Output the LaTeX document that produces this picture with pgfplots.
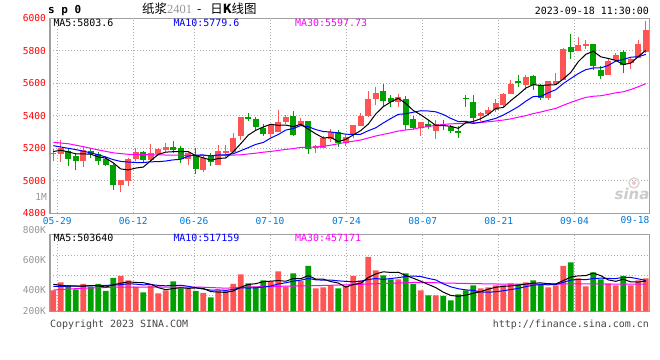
\documentclass[border=0pt]{standalone}
\usepackage{fontspec}
\usepackage{pgfplots}
\usepackage{pgfplotstable}
\pgfplotsset{compat=1.18}
\setmainfont{DejaVu Sans}
\newfontfamily\mono{DejaVu Sans Mono}
\newfontfamily\cjk{Noto Sans CJK SC}
\newfontfamily\serifd{Liberation Serif}

\definecolor{kred}{RGB}{255,84,84}
\definecolor{kgreen}{RGB}{0,160,0}
\definecolor{gridc}{RGB}{175,175,175}
\definecolor{framec}{RGB}{160,160,160}
\definecolor{datec}{RGB}{0,120,215}
\definecolor{greyt}{RGB}{150,150,150}
\definecolor{darkt}{RGB}{70,70,70}
\definecolor{ma10c}{RGB}{0,0,255}
\definecolor{ma30c}{RGB}{255,0,255}

\newcommand{\mf}{\mono\fontsize{10}{11}\selectfont}
\newcommand{\mfs}{\mono\fontsize{9.6}{10}\selectfont}

% candles: index open high low close
\pgfplotstableread{
i o h l c
0 5162 5194 5120 5174
1 5162 5250 5114 5204
4 5120 5215 5085 5190
9 4976 5004 4930 5004
10 5000 5140 4970 5136
11 5136 5200 5120 5176
13 5130 5226 5114 5174
14 5164 5200 5160 5196
15 5190 5234 5180 5206
18 5136 5176 5096 5170
20 5066 5150 5053 5142
22 5097 5220 5097 5186
23 5173 5220 5138 5186
24 5180 5293 5170 5262
25 5276 5392 5250 5392
29 5289 5350 5272 5344
30 5303 5437 5303 5359
31 5359 5406 5348 5390
33 5344 5385 5340 5365
35 5200 5220 5173 5214
36 5200 5276 5200 5262
37 5256 5317 5241 5303
39 5231 5289 5214 5268
40 5285 5345 5265 5345
41 5339 5416 5335 5400
42 5396 5551 5392 5501
43 5503 5578 5467 5543
46 5487 5537 5457 5517
49 5325 5360 5275 5360
51 5305 5376 5255 5349
57 5400 5426 5366 5420
58 5412 5457 5406 5436
59 5436 5501 5426 5481
60 5467 5543 5457 5533
61 5533 5622 5533 5598
63 5588 5653 5558 5638
66 5507 5612 5497 5612
67 5598 5663 5588 5612
68 5618 5820 5618 5814
70 5796 5887 5796 5836
71 5830 5867 5814 5840
74 5648 5754 5648 5739
75 5743 5784 5739 5776
77 5725 5760 5689 5749
78 5756 5867 5756 5844
79 5794 5982 5786 5931
}\redk
\pgfplotstableread{
i o h l c
2 5186 5200 5090 5136
3 5154 5170 5064 5124
5 5184 5200 5140 5164
6 5164 5176 5100 5120
7 5134 5150 5090 5100
8 5100 5110 4946 4976
12 5180 5186 5110 5130
16 5210 5244 5170 5190
17 5204 5216 5110 5136
19 5150 5200 5044 5070
21 5157 5170 5090 5118
26 5392 5416 5370 5380
27 5381 5390 5310 5334
28 5324 5348 5276 5289
32 5396 5430 5276 5282
34 5365 5371 5165 5194
38 5303 5313 5210 5231
44 5551 5598 5457 5493
45 5511 5531 5457 5487
47 5503 5521 5315 5341
48 5380 5400 5315 5325
50 5349 5376 5319 5329
52 5349 5376 5311 5335
53 5329 5345 5295 5305
54 5305 5335 5265 5295
55 5511 5531 5457 5505
56 5487 5527 5356 5386
62 5612 5648 5578 5602
64 5642 5653 5558 5588
65 5592 5598 5497 5507
69 5824 5901 5750 5790
72 5844 5844 5679 5705
73 5679 5709 5628 5644
76 5790 5804 5663 5713
}\greenk
% volumes (K)
\pgfplotstableread{
i v
0 361
1 489
4 462
9 590
10 521
11 414
13 436
14 313
15 361
18 388
20 318
22 361
23 361
24 462
25 617
29 505
30 665
31 420
33 510
35 393
36 409
37 441
39 430
40 590
41 521
42 894
43 681
46 537
49 361
51 281
57 393
58 409
59 441
60 441
61 473
63 489
66 409
67 441
68 750
70 553
71 425
74 473
75 441
77 441
78 521
79 553
}\redv
\pgfplotstableread{
i v
2 441
3 377
5 414
6 462
7 350
8 558
12 329
16 505
17 393
19 350
21 249
26 473
27 420
28 521
32 633
34 750
38 393
44 601
45 537
47 633
48 462
50 281
52 270
53 201
54 297
55 361
56 441
62 457
64 521
65 457
69 809
72 649
73 537
76 590
}\greenv

\pgfplotsset{
  kaxis/.style={
    scale only axis, width=599.3bp, xmin=-0.44, xmax=79.47,
    axis line style={draw=framec, line width=1.3bp},
    major tick length=0pt,
    xtick={0.53,10.67,18.76,28.9,39.1,49.25,59.4,69.5},
    xmajorgrids, ymajorgrids,
    grid style={draw=gridc, line width=0.9bp, dash pattern=on 1bp off 2bp},
  },
  wick/.style={draw=none, no markers, forget plot,
    error bars/.cd, y dir=plus, y explicit, error mark=none,
    error bar style={draw=#1, line width=1bp}},
  body/.style={draw=none, no markers, forget plot,
    error bars/.cd, y dir=plus, y explicit, error mark=none,
    error bar style={draw=#1, line width=5.7bp}},
}

\begin{document}
\begin{tikzpicture}
\useasboundingbox (0,0) rectangle (660bp,360bp);

% ---------- price panel ----------
\begin{axis}[kaxis, at={(50bp,146.7bp)}, anchor=south west, height=195bp,
  ymin=4800, ymax=6000,
  ytick={4800,5000,5200,5400,5600,5800,6000},
  yticklabels={4800,5000,5200,5400,5600,5800,6000},
  yticklabel style={font=\mfs, text=red, inner sep=0pt, xshift=-4bp},
  xticklabels={05-29,06-12,06-26,07-10,07-24,08-07,08-21,09-04},
  xticklabel style={font=\mfs, text=datec, inner sep=0pt, yshift=-3.7bp},
]
\addplot[wick=kred] table[x=i, y=l, y error plus expr=\thisrow{h}-\thisrow{l}] {\redk};
\addplot[wick=kgreen] table[x=i, y=l, y error plus expr=\thisrow{h}-\thisrow{l}] {\greenk};
\addplot[body=kred] table[x=i, y=o, y error plus expr={max(\thisrow{c}-\thisrow{o},5)}] {\redk};
\addplot[body=kgreen] table[x=i, y=c, y error plus expr={max(\thisrow{o}-\thisrow{c},5)}] {\greenk};

% MA30
\addplot[ma30c, line width=1bp] coordinates {
(0,5237)(2,5228)(4,5210)(6,5190)(8,5172)(10,5163)(13,5160)(16,5158)(19,5156)(22,5155)(25,5160)(27,5170)(28,5176)
(29,5180.7)(30,5186.9)(31,5193.1)(32,5198.0)(33,5206.0)(34,5206.1)(35,5207.8)(36,5212.5)(37,5219.3)(38,5227.8)(39,5236.6)
(40,5243.6)(41,5251.1)(42,5263.5)(43,5275.8)(44,5285.7)(45,5295.1)(46,5306.0)(47,5312.8)(48,5318.0)(49,5327.7)
(50,5333.9)(51,5341.6)(52,5346.6)(53,5350.6)(54,5351.7)(55,5355.5)(56,5355.7)(57,5358.6)(58,5363.5)(59,5368.1)
(60,5373.9)(61,5380.8)(62,5391.5)(63,5400.6)(64,5413.6)(65,5423.4)(66,5435.1)(67,5445.4)(68,5464.8)(69,5482.2)
(70,5498.6)(71,5513.3)(72,5520.1)(73,5523.5)(74,5531.7)(75,5541.3)(76,5547.8)(77,5561.4)(78,5578.7)(79,5597.7)};
% MA10
\addplot[ma10c, line width=1bp] coordinates {
(0,5216)(1,5208)(2,5200)(3,5192)(4,5182)(5,5172)(6,5160)(7,5146)(8,5130)(9,5119.2)
(10,5115.4)(11,5112.6)(12,5112)(13,5117)(14,5117.6)(15,5121.8)(16,5128.8)(17,5132.4)(18,5151.8)(19,5158.4)
(20,5159)(21,5153.2)(22,5158.8)(23,5160)(24,5166.6)(25,5185.2)(26,5204.2)(27,5224)(28,5235.9)(29,5263.3)
(30,5285)(31,5312.2)(32,5321.8)(33,5339.7)(34,5332.9)(35,5315.1)(36,5303.3)(37,5300.2)(38,5294.4)(39,5286.8)
(40,5285.4)(41,5286.4)(42,5308.3)(43,5326.1)(44,5356)(45,5383.3)(46,5408.8)(47,5412.6)(48,5422)(49,5431.2)
(50,5429.6)(51,5424.5)(52,5407.9)(53,5384.1)(54,5364.3)(55,5366.1)(56,5353)(57,5360.9)(58,5372)(59,5384.1)
(60,5404.5)(61,5429.4)(62,5456.1)(63,5489.4)(64,5518.7)(65,5518.9)(66,5541.5)(67,5560.7)(68,5598.5)(69,5629.4)
(70,5659.7)(71,5683.9)(72,5694.2)(73,5694.8)(74,5709.9)(75,5736.8)(76,5746.9)(77,5760.6)(78,5763.6)(79,5777.7)};
% MA5
\addplot[black, line width=1bp] coordinates {
(0,5180)(1,5188)(2,5178)(3,5166)(4,5165.6)(5,5163.6)(6,5146.8)(7,5139.6)(8,5110)(9,5072.8)
(10,5067.2)(11,5078.4)(12,5084.4)(13,5124)(14,5162.4)(15,5176.4)(16,5179.2)(17,5180.4)(18,5179.6)(19,5154.4)
(20,5141.6)(21,5127.2)(22,5137.2)(23,5140.4)(24,5178.8)(25,5228.8)(26,5281.2)(27,5310.8)(28,5331.4)(29,5347.8)
(30,5341.2)(31,5343.2)(32,5332.8)(33,5348)(34,5318)(35,5289)(36,5263.4)(37,5267.6)(38,5240.8)(39,5255.6)
(40,5281.8)(41,5309.4)(42,5349)(43,5411.4)(44,5456.4)(45,5484.8)(46,5508.2)(47,5476.2)(48,5432.6)(49,5406)
(50,5374.4)(51,5340.8)(52,5339.6)(53,5335.6)(54,5322.6)(55,5357.8)(56,5365.2)(57,5382.2)(58,5408.4)(59,5445.6)
(60,5451.2)(61,5493.6)(62,5530)(63,5570.4)(64,5591.8)(65,5586.6)(66,5589.4)(67,5591.4)(68,5626.6)(69,5667)
(70,5732.8)(71,5778.4)(72,5797)(73,5763)(74,5752.8)(75,5740.8)(76,5715.4)(77,5724.2)(78,5764.2)(79,5802.6)};
\end{axis}

% ---------- volume panel ----------
\begin{axis}[kaxis, at={(50bp,48.7bp)}, anchor=south west, height=77bp,
  ymin=25, ymax=1257, ytick={286,595,915}, yticklabels={}, xticklabels={},
]
\addplot[ybar, bar width=5.7bp, bar shift=0pt, fill=kred, draw=none, forget plot] table[x=i, y=v] {\redv};
\addplot[ybar, bar width=5.7bp, bar shift=0pt, fill=kgreen, draw=none, forget plot] table[x=i, y=v] {\greenv};
\addplot[ma30c, line width=1bp] coordinates {
(0,365)(4,395)(8,410)(14,414)(20,410)(23,395)(26,414)(30,425)(35,435)(39,448)(44,470)(49,490)(52,478)(56,468)(60,460)(66,458)(70,466)(75,460)(79,458)};
\addplot[ma10c, line width=1bp] coordinates {
(0,425)(1,425)(2,426)(3,428)(4,430)(5,433)(6,436)(7,440)(8,445)(9,450)
(10,466)(11,459)(12,448)(13,454)(14,439)(15,433)(16,438)(17,442)(18,425)(19,401)
(20,381)(21,364)(22,367)(23,360)(24,375)(25,400)(26,397)(27,400)(28,413)(29,429)
(30,463)(31,481)(32,508)(33,523)(34,551)(35,529)(36,523)(37,525)(38,512)(39,504)
(40,497)(41,507)(42,533)(43,550)(44,535)(45,550)(46,563)(47,582)(48,589)(49,582)
(50,551)(51,527)(52,464)(53,416)(54,386)(55,368)(56,359)(57,335)(58,330)(59,338)
(60,354)(61,373)(62,391)(63,420)(64,443)(65,452)(66,449)(67,454)(68,488)(69,525)
(70,536)(71,531)(72,550)(73,555)(74,550)(75,549)(76,567)(77,567)(78,544)(79,518)};
\addplot[black, line width=1bp] coordinates {
(0,457)(1,440)(2,430)(3,430)(4,426)(5,437)(6,431)(7,413)(8,449)(9,475)
(10,496)(11,487)(12,482)(13,458)(14,403)(15,371)(16,389)(17,402)(18,392)(19,399)
(20,391)(21,340)(22,333)(23,328)(24,350)(25,410)(26,455)(27,467)(28,499)(29,507)
(30,517)(31,506)(32,549)(33,547)(34,596)(35,541)(36,539)(37,501)(38,477)(39,413)
(40,453)(41,475)(42,566)(43,623)(44,657)(45,647)(46,650)(47,598)(48,554)(49,506)
(50,455)(51,404)(52,331)(53,279)(54,266)(55,282)(56,314)(57,339)(58,380)(59,409)
(60,425)(61,431)(62,444)(63,460)(64,476)(65,479)(66,467)(67,463)(68,516)(69,573)
(70,592)(71,596)(72,637)(73,595)(74,527)(75,505)(76,538)(77,496)(78,493)(79,509)};
\end{axis}

% ---------- texts ----------
\node[anchor=base west, inner sep=0pt] at (48bp,346bp) {\mono\bfseries\fontsize{11}{12}\selectfont s p 0};
\node[anchor=base west, inner sep=0pt] at (142bp,346bp) {\cjk\fontsize{12.5}{13}\selectfont 纸浆{\serifd\color{greyt}2401}\hspace{5bp}-\hspace{9bp}日\textbf{K}线图};
\node[anchor=base east, inner sep=0pt] at (649bp,345bp) {\mf 2023-09-18 11:30:00};

\node[anchor=base west, inner sep=0pt] at (53.3bp,333bp) {\mf MA5:5803.6};
\node[anchor=base west, inner sep=0pt, text=ma10c] at (173.3bp,333bp) {\mf MA10:5779.6};
\node[anchor=base west, inner sep=0pt, text=ma30c] at (295bp,333bp) {\mf MA30:5597.73};

\node[anchor=base east, inner sep=0pt, text=greyt] at (47bp,159.5bp) {\mfs 1M};
\node[anchor=base, inner sep=0pt, text=datec] at (635bp,136bp) {\mfs 09-18};

\node[anchor=base west, inner sep=0pt] at (53.3bp,118bp) {\mf MA5:503640};
\node[anchor=base west, inner sep=0pt, text=ma10c] at (173.3bp,118bp) {\mf MA10:517159};
\node[anchor=base west, inner sep=0pt, text=ma30c] at (295bp,118bp) {\mf MA30:457171};

\node[anchor=base east, inner sep=0pt, text=greyt] at (46bp,126.5bp) {\mfs 800K};
\node[anchor=base east, inner sep=0pt, text=greyt] at (46bp,96.5bp) {\mfs 600K};
\node[anchor=base east, inner sep=0pt, text=greyt] at (46bp,66.5bp) {\mfs 400K};
\node[anchor=base east, inner sep=0pt, text=greyt] at (46bp,45.5bp) {\mfs 200K};

\node[anchor=base west, inner sep=0pt, text=darkt] at (50bp,33bp) {\mf Copyright 2023 SINA.COM};
\node[anchor=base east, inner sep=0pt, text=darkt] at (649bp,33bp) {\mf http://finance.sina.com.cn};

% sina watermark
\node[anchor=base, inner sep=0pt, text=gray!40] at (632bp,160bp) {\bfseries\itshape\fontsize{15}{15}\selectfont sina};
\draw[gray!30, line width=1.6bp] (634bp,177bp) circle (5bp);
\fill[red!25] (634bp,177bp) circle (2bp);
\end{tikzpicture}
\end{document}
